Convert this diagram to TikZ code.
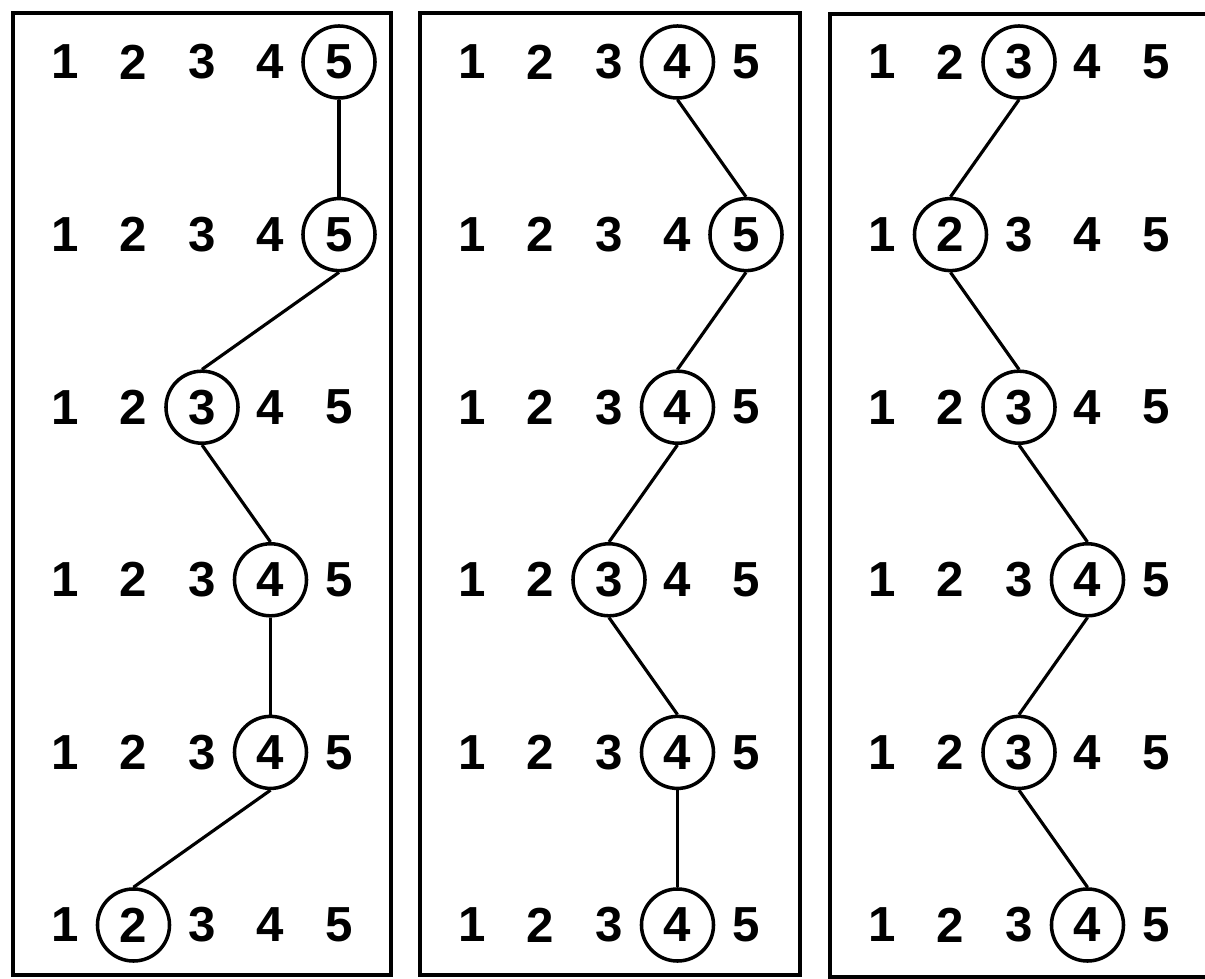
\documentclass[tikz,border=0pt]{standalone}
\usepackage{fontspec}
\setmainfont{Liberation Sans}
\usepackage{tikz}

\begin{document}
\begin{tikzpicture}[x=0.01cm, y=-0.01cm,
  num/.style={font=\bfseries\fontsize{14}{16}\selectfont, inner sep=0pt},
  ring/.style={num, draw, circle, line width=1pt, minimum size=0.72cm},
  link/.style={line width=0.9pt},
  frame/.style={line width=1.4pt}]
  \useasboundingbox (0,0) rectangle (1205,979);
  \draw[frame] (13,13) rectangle (391,975);
  \draw[frame] (420,13) rectangle (800,975);
  \draw[frame] (830,14) rectangle (1220,977);
  \foreach \p/\xo/\marks in {1/65/{5,5,3,4,4,2}, 2/472/{4,5,4,3,4,4}, 3/882/{3,2,3,4,3,4}} {
    \foreach \c [count=\r, remember=\c as \lastc (initially 0), remember=\r as \lastr (initially 0)] in \marks {
      \foreach \k in {1,...,5} {
        \ifnum\k=\c \def\sty{ring}\else\def\sty{num}\fi
        \node[\sty] (p\p r\r c\k) at ({\xo+68.5*(\k-1)}, {62+172.6*(\r-1)}) {\k};
      }
      \ifnum\r>1
        \draw[link] (p\p r\lastr c\lastc.south) -- (p\p r\r c\c.north);
      \fi
    }
  }
\end{tikzpicture}
\end{document}
